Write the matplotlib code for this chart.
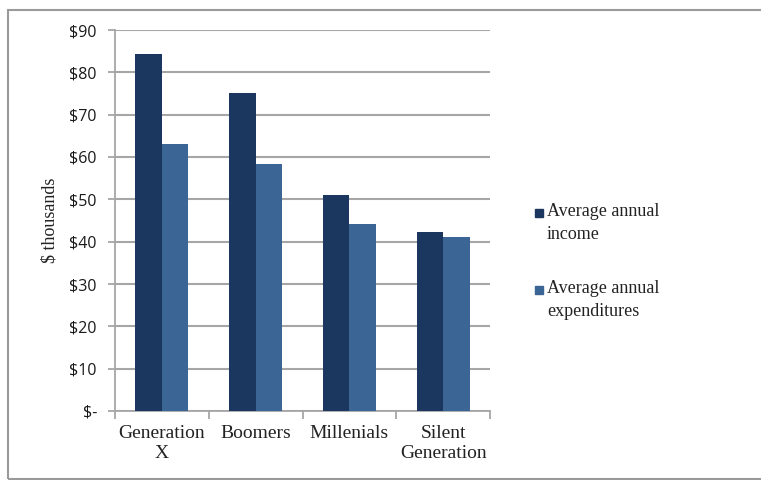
import matplotlib
matplotlib.use('Agg')
import matplotlib.pyplot as plt
import numpy as np
from matplotlib.patches import Rectangle

# Data
generations = ['Generation\nX', 'Boomers', 'Millenials', 'Silent\nGeneration']
income = [84.3, 75.2, 51.1, 42.2]
expenditures = [63.0, 58.3, 44.2, 41.1]
yticks = [0, 10, 20, 30, 40, 50, 60, 70, 80, 90]
ytick_labels = ['$-', '$10', '$20', '$30', '$40', '$50', '$60', '$70', '$80', '$90']
legend_labels = ['Average annual\nincome', 'Average annual\nexpenditures']

c_income = '#1B365F'
c_exp = '#3A6595'
grid_c = '#A6A6A6'
serif = ['Liberation Serif', 'DejaVu Serif']

fig = plt.figure(figsize=(7.61, 4.8), dpi=100)
ax = fig.add_axes([115 / 761, 1 - 411 / 480, 375 / 761, 381 / 480])

x = np.arange(len(generations))
w = 0.283
ax.bar(x - w / 2, income, w, color=c_income, zorder=3)
ax.bar(x + w / 2, expenditures, w, color=c_exp, zorder=3)

ax.set_xlim(-0.5, 3.5)
ax.set_ylim(0, 90)
ax.set_yticks(yticks)
ax.set_yticklabels(ytick_labels, family='Open Sans', fontsize=11.5, color='#1a1a1a')
ax.yaxis.grid(True, color=grid_c, linewidth=1.5, zorder=0)

# category labels, ticks at boundaries
ax.set_xticks(x)
ax.set_xticklabels(generations, family=serif, fontsize=14, color='#222222', linespacing=1.25)
ax.tick_params(axis='x', which='major', length=0, pad=10)
ax.set_xticks(np.arange(-0.5, 4, 1), minor=True)
ax.tick_params(axis='x', which='minor', length=6, color=grid_c, width=1.3, direction='out')
ax.tick_params(axis='y', length=5, color=grid_c, width=1.3, pad=8)

for s in ['top', 'right']:
    ax.spines[s].set_visible(False)
for s in ['left', 'bottom']:
    ax.spines[s].set_color(grid_c)
    ax.spines[s].set_linewidth(1.3)

ax.set_ylabel('$ thousands', family=serif, fontsize=13, color='#222222', labelpad=8)

# Legend (marker next to first line)
for lab, col, yy in zip(legend_labels, [c_income, c_exp], [213, 290]):
    fig.add_artist(Rectangle((535 / 761, 1 - (yy + 4) / 480), 8 / 761, 8 / 480,
                             transform=fig.transFigure, color=col))
    fig.text(547 / 761, 1 - (yy - 10) / 480, lab, family=serif, fontsize=13,
             va='top', ha='left', color='#222222', linespacing=1.45)

# Outer chart border
fig.add_artist(Rectangle((8 / 761, 1.5 / 480), 1.0, 468.5 / 480, transform=fig.transFigure,
                         fill=False, edgecolor='#9A9A9A', linewidth=1.5))

fig.savefig('out.png', dpi=100)
